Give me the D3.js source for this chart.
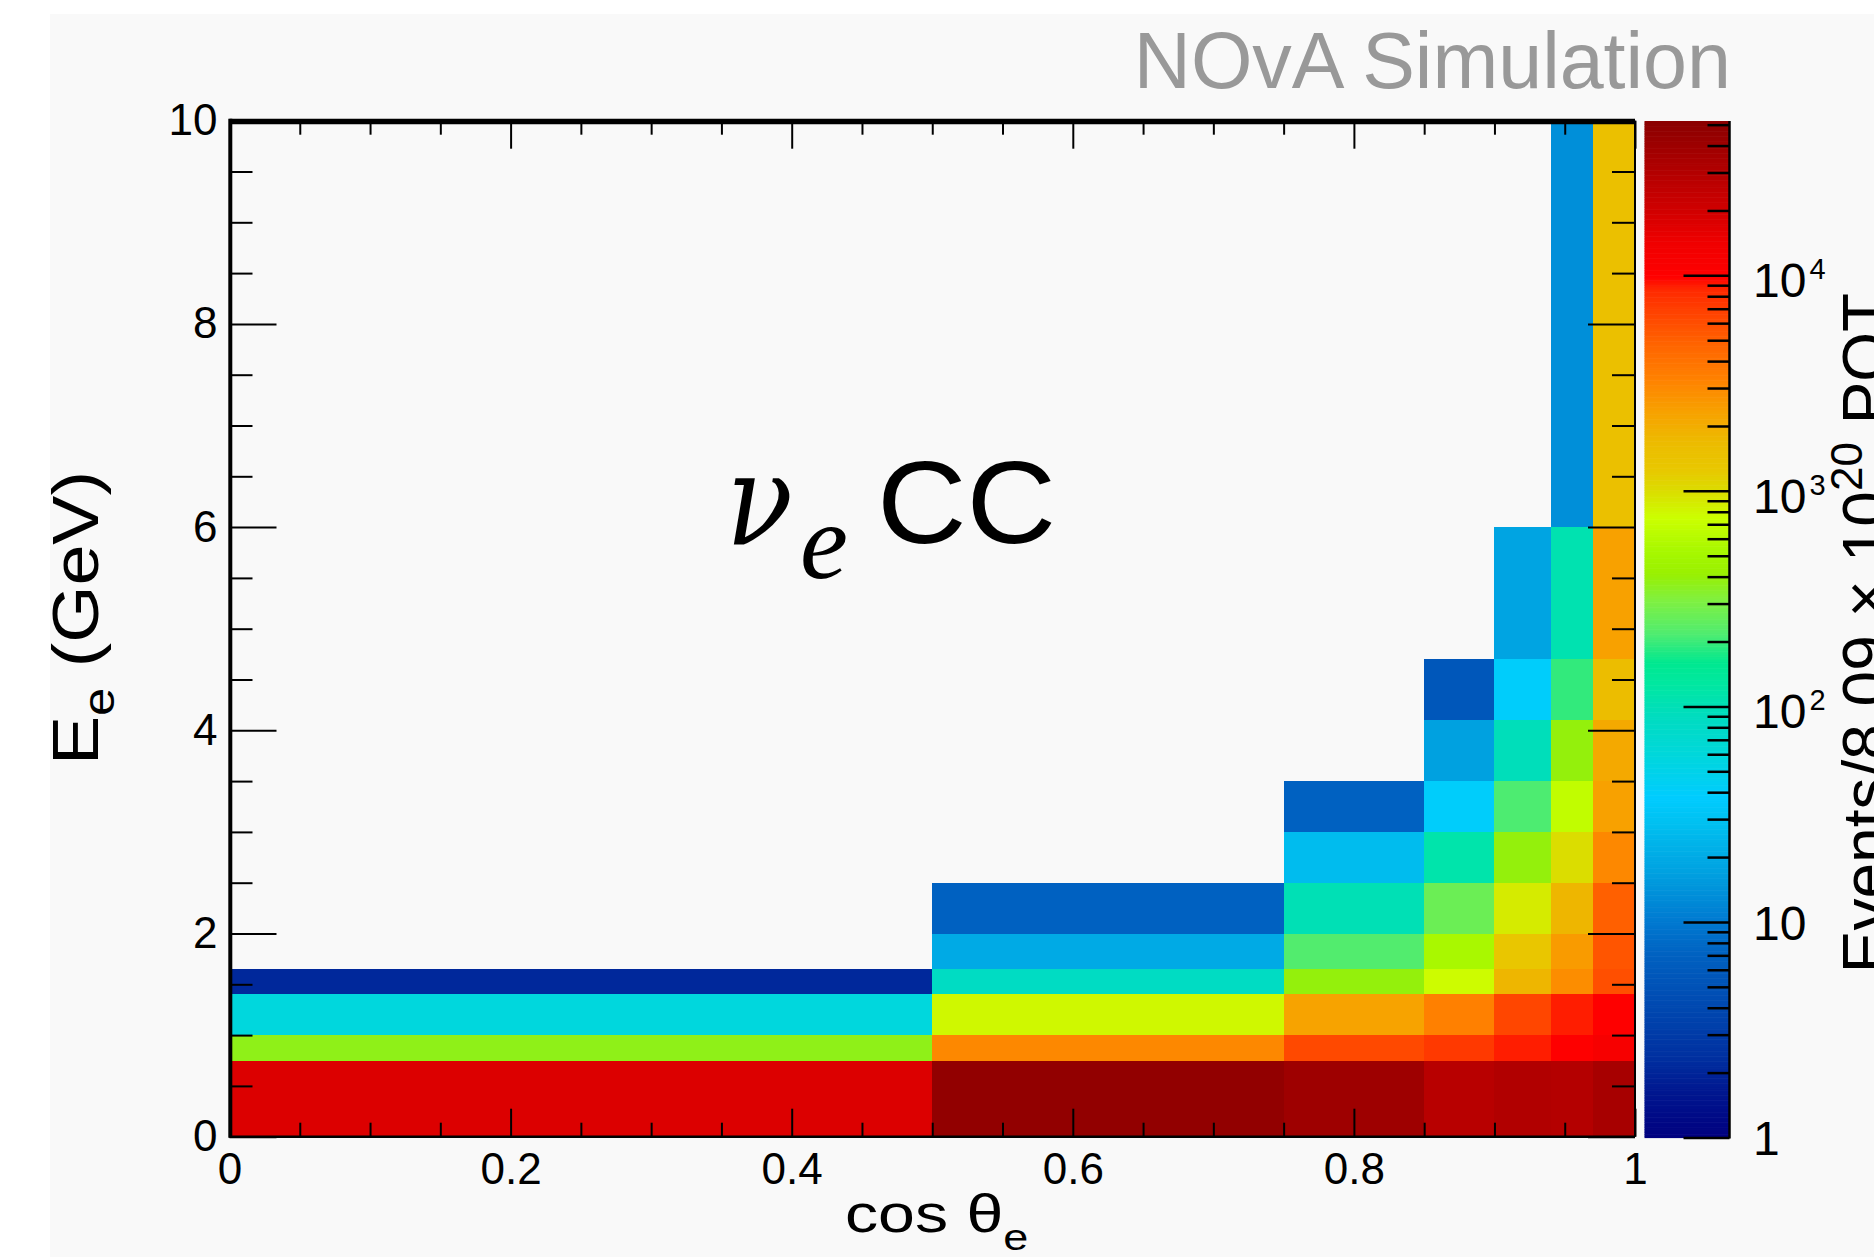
<!DOCTYPE html>
<html>
<head>
<meta charset="utf-8">
<script src="https://cdn.jsdelivr.net/npm/d3@7"></script>
<style>
  html, body { margin: 0; padding: 0; background: #ffffff; }
  svg { display: block; font-family: "Liberation Sans", Arial, Helvetica, sans-serif; }
</style>
</head>
<body>
<svg id="chart" width="1874" height="1257"></svg>
<script>
// ---- binning ----
const cosEdges = [0, 0.5, 0.75, 0.85, 0.9, 0.94, 0.97, 1];
const energyEdges = [0, 0.75, 1, 1.4, 1.65, 2, 2.5, 3, 3.5, 4.1, 4.7, 6, 10];

// ---- events per E_e bin (lowest energy first), one array per cos(theta_e) bin ----
const eventsCos0p00 = [17600, 372, 59, 2.1];
const eventsCos0p50 = [47000, 3100, 800, 86, 20, 7];
const eventsCos0p75 = [40000, 6300, 2280, 393, 221, 101, 27, 7];
const eventsCos0p85 = [28000, 7400, 3380, 770, 535, 268, 113, 40, 17, 5.7];
const eventsCos0p90 = [31000, 8950, 6470, 1790, 1300, 890, 393, 216, 96, 40, 18];
const eventsCos0p94 = [29500, 10200, 8950, 2930, 2500, 1790, 1000, 676, 393, 194, 107, 13.5];
const eventsCos0p97 = [35500, 12000, 10200, 5940, 5600, 5040, 3100, 2350, 2130, 1620, 2350, 1520];
const eventsByCosBin = [eventsCos0p00, eventsCos0p50, eventsCos0p75, eventsCos0p85,
                        eventsCos0p90, eventsCos0p94, eventsCos0p97];

// ---- axis ticks ----
const xMajorTicks = [0, 0.2, 0.4, 0.6, 0.8, 1];
const xMinorTicks = d3.range(0, 1.0001, 0.05).map(v => +v.toFixed(2)).filter(v => !xMajorTicks.includes(v));
const yMajorTicks = [0, 2, 4, 6, 8, 10];
const yMinorTicks = d3.range(0, 10.0001, 0.5).filter(v => !yMajorTicks.includes(v));
const zRange = [1, 52000];
const zDecades = [1, 10, 100, 1000, 10000];
const zMinorTicks = zDecades.flatMap(d => d3.range(2, 10).map(m => m * d)).filter(v => v < zRange[1]);

// ---- colour palette: position (fraction of log range) -> colour ----
const paletteStops = [0, 0.047, 0.079, 0.128, 0.178, 0.211, 0.260, 0.309, 0.335, 0.381, 0.414,
  0.447, 0.467, 0.496, 0.529, 0.555, 0.578, 0.610, 0.637, 0.657, 0.683, 0.716, 0.748, 0.781,
  0.814, 0.834, 0.847, 0.880, 0.913, 0.961, 1];
const paletteColors = ["#00007f", "#001890", "#0030a0", "#0048b0", "#0060c0", "#0078d0", "#00a0e0",
  "#00c0f0", "#00ccff", "#00d8d8", "#00dcc0", "#00e8a0", "#00e890", "#50ec70", "#80f040", "#99f000",
  "#a8f800", "#ccff00", "#dcdc00", "#e8c800", "#ecbc00", "#f8a000", "#ff8000", "#ff6400", "#ff4000",
  "#ff2a00", "#ff0000", "#f00000", "#d00000", "#aa0000", "#8a0000"];

const svg = d3.select("#chart");
const W = 1874, H = 1257;

// page and canvas background
svg.append("rect").attr("width", W).attr("height", H).attr("fill", "#ffffff");
svg.append("rect").attr("x", 50).attr("y", 14).attr("width", W - 50).attr("height", H - 14).attr("fill", "#f9f9f9");

// scales
const x = d3.scaleLinear().domain([0, 1]).range([229.5, 1635]);
const y = d3.scaleLinear().domain([0, 10]).range([1136.7, 120.7]);
const zPos = d3.scaleLog().domain(zRange).range([0, 1]);
const zPal = d3.scaleLog().domain(zRange).range([1137.5, 121]);
const paletteColour = d3.scaleLinear().domain(paletteStops).range(paletteColors)
  .interpolate(d3.interpolateRgb).clamp(true);
const colourOf = v => paletteColour(zPos(v));

// ---- histogram cells ----
const cells = [];
eventsByCosBin.forEach((col, i) => {
  col.forEach((v, j) => cells.push({ x0: cosEdges[i], x1: cosEdges[i + 1], y0: energyEdges[j], y1: energyEdges[j + 1], v }));
});
svg.append("g").selectAll("rect").data(cells).join("rect")
  .attr("x", d => x(d.x0))
  .attr("y", d => y(d.y1))
  .attr("width", d => x(d.x1) - x(d.x0))
  .attr("height", d => y(d.y0) - y(d.y1))
  .attr("fill", d => colourOf(d.v))
  .attr("shape-rendering", "crispEdges");

// ---- axes ----
function styleAxis(g, width) {
  g.select(".domain").remove();
  g.selectAll(".tick line").attr("stroke", "#000").attr("stroke-width", width);
  g.selectAll(".tick text").attr("fill", "#000").attr("font-family", "Liberation Sans, Arial, sans-serif");
}
const fmt = d3.format("~g");

// bottom
svg.append("g").attr("transform", `translate(0,${y(0)})`)
  .call(d3.axisBottom(x).tickValues(xMinorTicks).tickSize(-14).tickSizeOuter(0).tickFormat(""))
  .call(g => styleAxis(g, 2));
svg.append("g").attr("transform", `translate(0,${y(0)})`)
  .call(d3.axisBottom(x).tickValues(xMajorTicks).tickSize(-28).tickSizeOuter(0).tickPadding(16).tickFormat(fmt))
  .call(g => styleAxis(g, 2))
  .call(g => g.selectAll(".tick text").attr("font-size", 44));
// top
svg.append("g").attr("transform", `translate(0,${y(10)})`)
  .call(d3.axisTop(x).tickValues(xMinorTicks).tickSize(-14).tickSizeOuter(0).tickFormat(""))
  .call(g => styleAxis(g, 2));
svg.append("g").attr("transform", `translate(0,${y(10)})`)
  .call(d3.axisTop(x).tickValues(xMajorTicks).tickSize(-28).tickSizeOuter(0).tickFormat(""))
  .call(g => styleAxis(g, 2));
// left
svg.append("g").attr("transform", `translate(${x(0)},0)`)
  .call(d3.axisLeft(y).tickValues(yMinorTicks).tickSize(-23).tickSizeOuter(0).tickFormat(""))
  .call(g => styleAxis(g, 2));
svg.append("g").attr("transform", `translate(${x(0)},0)`)
  .call(d3.axisLeft(y).tickValues(yMajorTicks).tickSize(-47).tickSizeOuter(0).tickPadding(12).tickFormat(fmt))
  .call(g => styleAxis(g, 2))
  .call(g => g.selectAll(".tick text").attr("font-size", 44));
// right
svg.append("g").attr("transform", `translate(${x(1)},0)`)
  .call(d3.axisRight(y).tickValues(yMinorTicks).tickSize(-23).tickSizeOuter(0).tickFormat(""))
  .call(g => styleAxis(g, 2));
svg.append("g").attr("transform", `translate(${x(1)},0)`)
  .call(d3.axisRight(y).tickValues(yMajorTicks).tickSize(-47).tickSizeOuter(0).tickFormat(""))
  .call(g => styleAxis(g, 2));

// frame lines
const frame = svg.append("g").attr("stroke", "#000");
frame.append("line").attr("x1", x(0)).attr("x2", x(1)).attr("y1", y(10) + 0.8).attr("y2", y(10) + 0.8).attr("stroke-width", 5.5);
frame.append("line").attr("x1", x(0)).attr("x2", x(1)).attr("y1", y(0)).attr("y2", y(0)).attr("stroke-width", 2.6);
frame.append("line").attr("x1", x(0) + 0.8).attr("x2", x(0) + 0.8).attr("y1", y(10) - 2).attr("y2", y(0) + 1).attr("stroke-width", 4);
frame.append("line").attr("x1", x(1)).attr("x2", x(1)).attr("y1", y(10)).attr("y2", y(0)).attr("stroke-width", 2);

// ---- colour palette ----
const palX0 = 1644.5, palX1 = 1729.5;
const slices = d3.range(0, 600).map(i => {
  const lo = Math.pow(10, Math.log10(zRange[1]) * i / 600);
  const hi = Math.pow(10, Math.log10(zRange[1]) * (i + 1) / 600);
  return { lo, hi, mid: Math.sqrt(lo * hi) };
});
svg.append("g").selectAll("rect").data(slices).join("rect")
  .attr("x", palX0).attr("width", palX1 - palX0)
  .attr("y", d => zPal(d.hi)).attr("height", d => zPal(d.lo) - zPal(d.hi) + 0.6)
  .attr("fill", d => colourOf(d.mid));

svg.append("g").attr("transform", `translate(${palX1},0)`)
  .call(d3.axisRight(zPal).tickValues(zMinorTicks).tickSize(-22).tickSizeOuter(0).tickFormat(""))
  .call(g => styleAxis(g, 2.5));
const zAxis = svg.append("g").attr("transform", `translate(${palX1},0)`)
  .call(d3.axisRight(zPal).tickValues(zDecades).tickSize(-46).tickSizeOuter(0).tickPadding(23).tickFormat(""))
  .call(g => styleAxis(g, 2.5));
svg.append("line").attr("x1", palX1).attr("x2", palX1).attr("y1", zPal(zRange[1])).attr("y2", zPal(1) + 1)
  .attr("stroke", "#000").attr("stroke-width", 2.5);

// palette labels: 1, 10, 10^2, 10^3, 10^4
zAxis.selectAll(".tick").each(function (d) {
  const e = Math.round(Math.log10(d));
  const t = d3.select(this).append("text")
    .attr("x", 23.5).attr("fill", "#000").attr("font-size", 48)
    .attr("y", e >= 2 ? 21.5 : 17.2);
  if (e === 0) t.text("1");
  else if (e === 1) t.text("10");
  else {
    t.append("tspan").text("10");
    t.append("tspan").attr("font-size", 29).attr("dx", 3).attr("dy", -18).text(e);
  }
});

// palette title (runs off the right edge of the canvas)
svg.append("text")
  .attr("transform", "translate(1888,633) rotate(-90)")
  .attr("text-anchor", "middle").attr("font-size", 64).attr("fill", "#000")
  .call(t => {
    t.append("tspan").text("Events/8.09 × 10");
    t.append("tspan").attr("font-size", 44).attr("dy", -26).text("20");
    t.append("tspan").attr("dy", 26).text(" POT");
  });

// ---- axis titles ----
svg.append("text")
  .attr("transform", "translate(845,1232) scale(1.25,1)")
  .attr("font-size", 53).attr("fill", "#000")
  .call(t => {
    t.append("tspan").text("cos θ");
    t.append("tspan").attr("font-size", 36).attr("dy", 18).text("e");
  });

svg.append("text")
  .attr("transform", "translate(98,765) rotate(-90) scale(1.15,1)")
  .attr("font-size", 64).attr("fill", "#000")
  .call(t => {
    t.append("tspan").text("E");
    t.append("tspan").attr("font-size", 44).attr("dy", 16).text("e");
    t.append("tspan").attr("dy", -16).text(" (GeV)");
  });

// ---- labels ----
svg.append("text")
  .attr("x", 1731).attr("y", 88).attr("text-anchor", "end")
  .attr("font-size", 79).attr("fill", "#999999")
  .text("NOvA Simulation");

// nu_e CC: Greek nu with italic subscript e, then CC
const label = svg.append("g").attr("fill", "#000");
label.append("text").attr("transform", "translate(726,545) scale(0.86,1)")
  .attr("font-family", "DejaVu Serif, Liberation Serif, serif").attr("font-style", "italic")
  .attr("font-size", 128).text("ν");
label.append("text").attr("x", 800).attr("y", 578)
  .attr("font-family", "Liberation Serif, Times New Roman, serif").attr("font-style", "italic")
  .attr("font-size", 108).text("e");
label.append("text").attr("transform", "translate(877,543) scale(1.07,1)")
  .attr("font-size", 116).text("CC");
</script>
</body>
</html>
